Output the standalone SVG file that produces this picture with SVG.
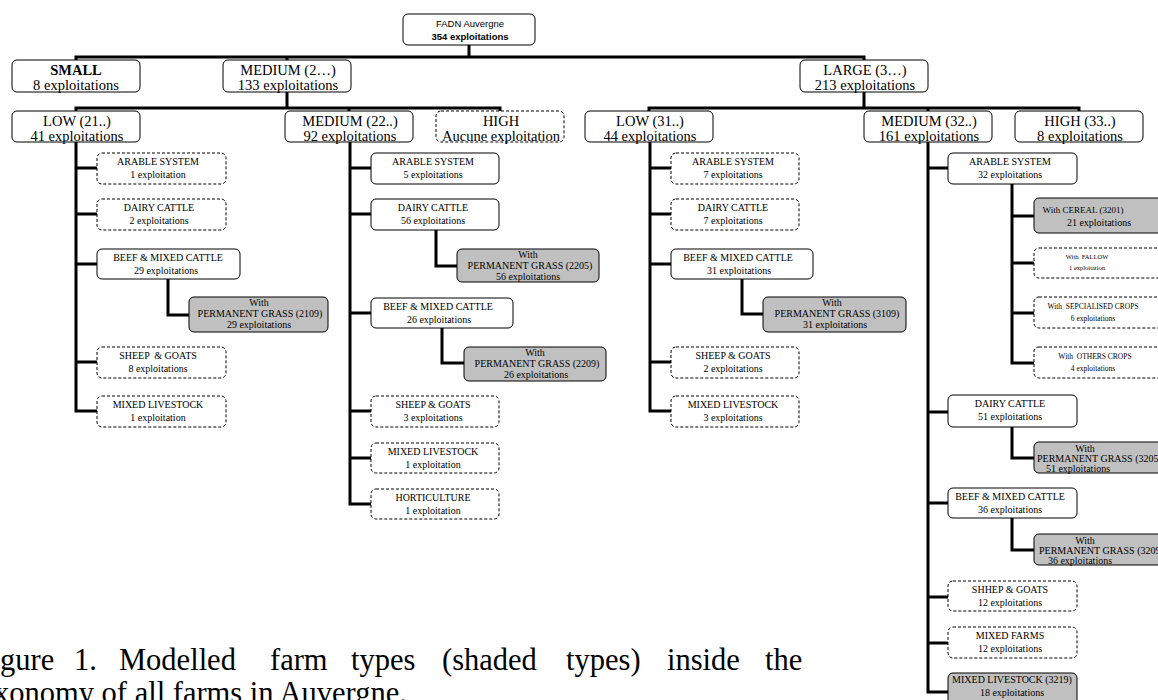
<svg xmlns="http://www.w3.org/2000/svg" width="1158" height="700" viewBox="0 0 1158 700">
<style>
.b{fill:#fff;stroke:#000;stroke-width:1}
.d{stroke-dasharray:3 2}
.g{fill:#c0c0c0}
.c{fill:none;stroke:#000;stroke-width:3;stroke-linecap:square}
text{font-family:'Liberation Serif','Times New Roman',serif;text-anchor:middle;fill:#000}
.L{font-size:14.5px}
.s{font-size:10px}
.xs{font-size:7.5px}
.xxs{font-size:6.5px}
.a{font-family:'Liberation Sans',Arial,sans-serif;font-size:9.5px}
.st{text-anchor:start}
.cap{font-size:30.5px;text-anchor:start}
</style>
<rect width="1158" height="700" fill="#fff"/>
<g id="connectors" class="c">
<path d="M469 45V57M76 57H864M76 57V60M287 57V60M864 57V60"/>
<path d="M287 92V108M76 108H500M76 108V111M349 108V111M500 108V111"/>
<path d="M864 92V108M649 108H1079M649 108V111M928 108V111M1079 108V111"/>
<path d="M76 142V411M76 168H97M76 214H97M76 264H97M76 362H97M76 411H97M168 279V315H189"/>
<path d="M350 142V504M350 168H371M350 214H371M350 313H371M350 411H371M350 458H371M350 504H371M436 230V266H457M442 328V363H464"/>
<path d="M650 142V411M650 168H671M650 214H671M650 264H671M650 362H671M650 411H671M742 279V314H763"/>
<path d="M928 142V692M928 168H948M928 412H948M928 503H948M928 597H948M928 643H948M928 692H948M1012 184V363M1012 216H1034M1012 263H1034M1012 313H1034M1012 363H1034M1012 427V458H1034M1012 518V550H1034"/>
</g>
<g id="root"><rect class="b" x="403" y="14" width="132" height="31" rx="5"/><text class="a" x="470" y="27">FADN Auvergne</text><text class="a" x="470" y="40" font-weight="bold">354 exploitations</text></g>
<g id="small"><rect class="b" x="12" y="60" width="128" height="32" rx="5"/><text class="L" x="76" y="75" font-weight="bold">SMALL</text><text class="L" x="76" y="90">8 exploitations</text></g>
<g id="medium2"><rect class="b" x="223" y="60" width="128" height="32" rx="5"/><text class="L" x="288" y="75">MEDIUM (2…)</text><text class="L" x="288" y="90">133 exploitations</text></g>
<g id="large3"><rect class="b" x="800" y="60" width="128" height="32" rx="5"/><text class="L" x="865" y="75">LARGE (3…)</text><text class="L" x="865" y="90">213 exploitations</text></g>
<g id="low21"><rect class="b" x="12" y="111" width="128" height="31" rx="5"/><text class="L" x="77" y="126">LOW (21..)</text><text class="L" x="77" y="141">41 exploitations</text></g>
<g id="medium22"><rect class="b" x="285" y="111" width="128" height="31" rx="5"/><text class="L" x="350" y="126">MEDIUM (22..)</text><text class="L" x="350" y="141">92 exploitations</text></g>
<g id="high23"><rect class="b d" x="436" y="111" width="128" height="31" rx="5"/><text class="L" x="501" y="126">HIGH</text><text class="L" x="501" y="141">Aucune exploitation</text></g>
<g id="low31"><rect class="b" x="585" y="111" width="128" height="31" rx="5"/><text class="L" x="650" y="126">LOW (31..)</text><text class="L" x="650" y="141">44 exploitations</text></g>
<g id="medium32"><rect class="b" x="864" y="111" width="128" height="31" rx="5"/><text class="L" x="929" y="126">MEDIUM (32..)</text><text class="L" x="929" y="141">161 exploitations</text></g>
<g id="high33"><rect class="b" x="1015" y="111" width="128" height="31" rx="5"/><text class="L" x="1080" y="126">HIGH (33..)</text><text class="L" x="1080" y="141">8 exploitations</text></g>

<g id="arable21"><rect class="b d" x="97" y="153" width="129" height="31" rx="5"/><text class="s" x="158" y="165">ARABLE SYSTEM</text><text class="s" x="158" y="178">1 exploitation</text></g>
<g id="dairy21"><rect class="b d" x="97" y="199" width="129" height="31" rx="5"/><text class="s" x="159" y="211">DAIRY CATTLE</text><text class="s" x="159" y="224">2 exploitations</text></g>
<g id="beef21"><rect class="b" x="97" y="249" width="143" height="30" rx="5"/><text class="s" x="168" y="261">BEEF &amp; MIXED CATTLE</text><text class="s" x="166" y="274">29 exploitations</text></g>
<g id="pg2109"><rect class="b g" x="189" y="297" width="139" height="35" rx="5"/><text class="s" x="259" y="306">With</text><text class="s" x="260" y="317">PERMANENT GRASS (2109)</text><text class="s" x="259" y="328">29 exploitations</text></g>
<g id="sheep21"><rect class="b d" x="97" y="347" width="129" height="31" rx="5"/><text class="s" x="158" y="359" xml:space="preserve">SHEEP  &amp; GOATS</text><text class="s" x="158" y="372">8 exploitations</text></g>
<g id="mixed21"><rect class="b d" x="97" y="396" width="129" height="31" rx="5"/><text class="s" x="158" y="408">MIXED LIVESTOCK</text><text class="s" x="158" y="421">1 exploitation</text></g>

<g id="arable22"><rect class="b" x="371" y="153" width="128" height="31" rx="5"/><text class="s" x="433" y="165">ARABLE SYSTEM</text><text class="s" x="433" y="178">5 exploitations</text></g>
<g id="dairy22"><rect class="b" x="371" y="199" width="128" height="31" rx="5"/><text class="s" x="433" y="211">DAIRY CATTLE</text><text class="s" x="433" y="224">56 exploitations</text></g>
<g id="pg2205"><rect class="b g" x="457" y="249" width="142" height="33" rx="5"/><text class="s" x="528" y="258">With</text><text class="s" x="530" y="269">PERMANENT GRASS (2205)</text><text class="s" x="528" y="280">56 exploitations</text></g>
<g id="beef22"><rect class="b" x="371" y="298" width="142" height="30" rx="5"/><text class="s" x="438" y="310">BEEF &amp; MIXED CATTLE</text><text class="s" x="439" y="323">26 exploitations</text></g>
<g id="pg2209"><rect class="b g" x="464" y="347" width="142" height="34" rx="5"/><text class="s" x="535" y="356">With</text><text class="s" x="537" y="367">PERMANENT GRASS (2209)</text><text class="s" x="536" y="378">26 exploitations</text></g>
<g id="sheep22"><rect class="b d" x="371" y="396" width="128" height="31" rx="5"/><text class="s" x="433" y="408">SHEEP &amp; GOATS</text><text class="s" x="433" y="421">3 exploitations</text></g>
<g id="mixed22"><rect class="b d" x="371" y="443" width="128" height="30" rx="5"/><text class="s" x="433" y="455">MIXED LIVESTOCK</text><text class="s" x="433" y="468">1 exploitation</text></g>
<g id="horti22"><rect class="b d" x="371" y="489" width="128" height="30" rx="5"/><text class="s" x="433" y="501">HORTICULTURE</text><text class="s" x="433" y="514">1 exploitation</text></g>

<g id="arable31"><rect class="b d" x="671" y="153" width="128" height="31" rx="5"/><text class="s" x="733" y="165">ARABLE SYSTEM</text><text class="s" x="733" y="178">7 exploitations</text></g>
<g id="dairy31"><rect class="b d" x="671" y="199" width="128" height="31" rx="5"/><text class="s" x="733" y="211">DAIRY CATTLE</text><text class="s" x="733" y="224">7 exploitations</text></g>
<g id="beef31"><rect class="b" x="671" y="249" width="142" height="30" rx="5"/><text class="s" x="738" y="261">BEEF &amp; MIXED CATTLE</text><text class="s" x="739" y="274">31 exploitations</text></g>
<g id="pg3109"><rect class="b g" x="763" y="297" width="143" height="35" rx="5"/><text class="s" x="832" y="306">With</text><text class="s" x="837" y="317">PERMANENT GRASS (3109)</text><text class="s" x="835" y="328">31 exploitations</text></g>
<g id="sheep31"><rect class="b d" x="671" y="347" width="128" height="31" rx="5"/><text class="s" x="733" y="359">SHEEP &amp; GOATS</text><text class="s" x="733" y="372">2 exploitations</text></g>
<g id="mixed31"><rect class="b d" x="671" y="396" width="128" height="31" rx="5"/><text class="s" x="733" y="408">MIXED LIVESTOCK</text><text class="s" x="733" y="421">3 exploitations</text></g>

<g id="arable32"><rect class="b" x="948" y="153" width="129" height="31" rx="5"/><text class="s" x="1010" y="165">ARABLE SYSTEM</text><text class="s" x="1010" y="178">32 exploitations</text></g>
<g id="cereal3201"><rect class="b g" x="1034" y="198" width="130" height="35" rx="5"/><text x="1083" y="213" font-size="9px">With CEREAL (3201)</text><text class="s" x="1099" y="226">21 exploitations</text></g>
<g id="fallow"><rect class="b d" x="1034" y="248" width="130" height="30" rx="5"/><text class="xxs" x="1087" y="259" xml:space="preserve">With  FALLOW</text><text class="xxs" x="1087" y="270">1 exploitation</text></g>
<g id="specialised"><rect class="b d" x="1034" y="297" width="130" height="31" rx="5"/><text class="xs" x="1093" y="309" xml:space="preserve">With  SEPCIALISED CROPS</text><text class="xs" x="1093" y="321">6 exploitations</text></g>
<g id="others"><rect class="b d" x="1034" y="347" width="130" height="31" rx="5"/><text class="xs" x="1095" y="359" xml:space="preserve">With  OTHERS CROPS</text><text class="xs" x="1093" y="371">4 exploitations</text></g>
<g id="dairy32"><rect class="b" x="948" y="395" width="129" height="32" rx="5"/><text class="s" x="1010" y="407">DAIRY CATTLE</text><text class="s" x="1010" y="420">51 exploitations</text></g>
<g id="pg3205"><rect class="b g" x="1034" y="442" width="130" height="31" rx="5"/><text class="s" x="1085" y="452">With</text><text class="s st" x="1037" y="462">PERMANENT GRASS (3205)</text><text class="s" x="1078" y="472">51 exploitations</text></g>
<g id="beef32"><rect class="b" x="948" y="488" width="129" height="30" rx="5"/><text class="s" x="1010" y="500">BEEF &amp; MIXED CATTLE</text><text class="s" x="1010" y="513">36 exploitations</text></g>
<g id="pg3209"><rect class="b g" x="1034" y="534" width="130" height="31" rx="5"/><text class="s" x="1085" y="544">With</text><text class="s st" x="1039" y="554">PERMANENT GRASS (3209)</text><text class="s" x="1080" y="564">36 exploitations</text></g>
<g id="shhep32"><rect class="b d" x="948" y="581" width="129" height="30" rx="5"/><text class="s" x="1010" y="593">SHHEP &amp; GOATS</text><text class="s" x="1010" y="606">12 exploitations</text></g>
<g id="mixedfarms32"><rect class="b d" x="948" y="627" width="129" height="31" rx="5"/><text class="s" x="1010" y="639">MIXED FARMS</text><text class="s" x="1010" y="652">12 exploitations</text></g>
<g id="mixedls3219"><rect class="b g" x="948" y="673" width="129" height="35" rx="5"/><text class="s" x="1012" y="683" font-size="10.5px">MIXED LIVESTOCK (3219)</text><text class="s" x="1012" y="696">18 exploitations</text></g>

<g id="caption">
<text class="cap" y="670"><tspan x="0">gure</tspan><tspan x="74">1.</tspan><tspan x="119">Modelled</tspan><tspan x="270">farm</tspan><tspan x="351">types</tspan><tspan x="442">(shaded</tspan><tspan x="566">types)</tspan><tspan x="667">inside</tspan><tspan x="765">the</tspan></text>
<text class="cap" x="-6" y="703">xonomy of all farms in Auvergne.</text>
</g>
</svg>
